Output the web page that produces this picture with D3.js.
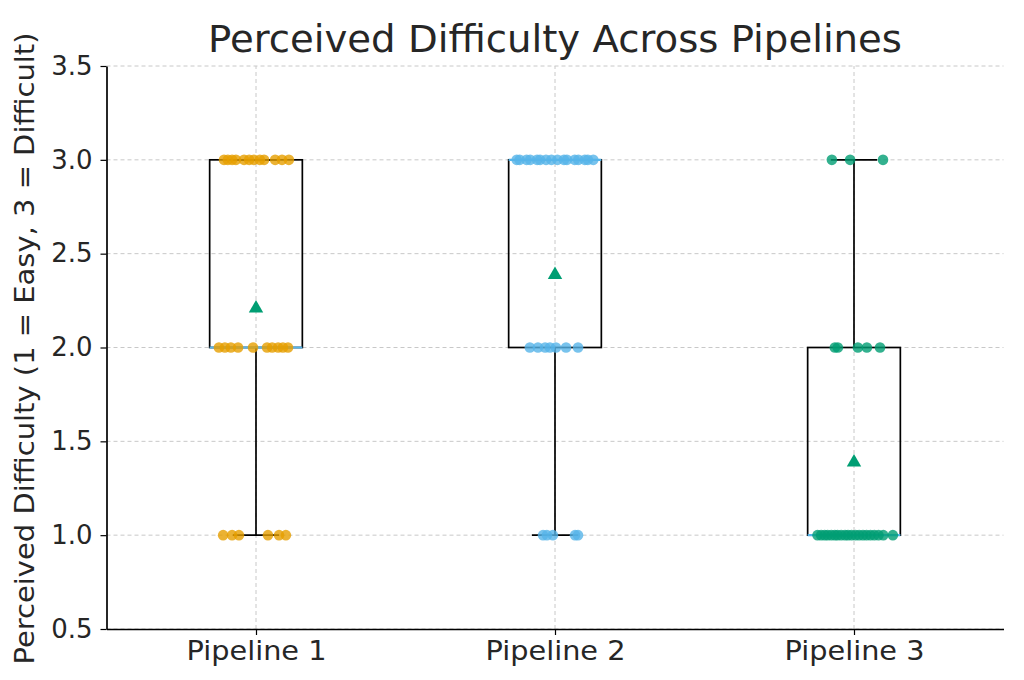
<!DOCTYPE html>
<html>
<head>
<meta charset="utf-8">
<script src="https://cdn.jsdelivr.net/npm/d3@7/dist/d3.min.js"></script>
<style>
  html, body { margin: 0; padding: 0; background: #fff; }
  svg { display: block; font-family: "DejaVu Sans", sans-serif; }
</style>
</head>
<body>
<svg id="chart" width="1024" height="680"></svg>
<script>
// ---------- data ----------
const categories = ["Pipeline 1", "Pipeline 2", "Pipeline 3"];

const pipeline1Ratings = [3,3,3,3,3,3,3,3,3,3,3,3, 2,2,2,2,2,2,2,2,2,2, 1,1,1,1,1,1];
const pipeline1Jitter  = [-0.107,-0.094,-0.080,-0.067,-0.040,-0.023,-0.007,0.013,0.027,0.064,0.087,0.110,
                          -0.124,-0.104,-0.084,-0.060,-0.010,0.037,0.054,0.074,0.090,0.107,
                          -0.110,-0.080,-0.057,0.040,0.077,0.100];

const pipeline2Ratings = [3,3,3,3,3,3,3,3,3,3,3,3,3,3,3,3, 2,2,2,2,2,2,2, 1,1,1,1,1];
const pipeline2Jitter  = [-0.128,-0.118,-0.095,-0.083,-0.060,-0.050,-0.030,-0.012,0.008,0.030,0.040,0.066,0.078,0.100,0.110,0.128,
                          -0.084,-0.057,-0.033,-0.017,0.003,0.037,0.077,
                          -0.040,-0.027,-0.007,0.067,0.077];

const pipeline3Ratings = [3,3,3, 2,2,2,2,2, 1,1,1,1,1,1,1,1,1,1,1,1,1,1,1,1,1,1,1,1];
const pipeline3Jitter  = [-0.074,-0.013,0.097,
                          -0.064,-0.054,0.013,0.043,0.087,
                          -0.122,-0.110,-0.098,-0.088,-0.076,-0.064,-0.055,-0.043,-0.030,-0.020,-0.008,0.005,0.017,0.030,0.042,0.055,0.068,0.082,0.098,0.130];

const seriesRatings = [pipeline1Ratings, pipeline2Ratings, pipeline3Ratings];
const seriesJitter  = [pipeline1Jitter, pipeline2Jitter, pipeline3Jitter];
const seriesColors  = ["#E69F00", "#56B4E9", "#009E73"];
const yTicks = [0.5, 1.0, 1.5, 2.0, 2.5, 3.0, 3.5];

const titleText = "Perceived Difficulty Across Pipelines";
const yLabelText = "Perceived Difficulty (1 = Easy, 3 = Difficult)";

// ---------- layout ----------
const W = 1024, H = 680;
const margin = { left: 106.5, right: 20.5, top: 66, bottom: 51 };
const svg = d3.select("#chart");

const x = d3.scaleLinear().domain([-0.5, categories.length - 0.5]).range([margin.left, W - margin.right]);
const y = d3.scaleLinear().domain([0.5, 3.5]).range([H - margin.bottom, margin.top]);

const textColor = "#262626";

// grid
const grid = svg.append("g");
grid.selectAll("line.hy").data(yTicks).join("line")
  .attr("x1", x.range()[0]).attr("x2", x.range()[1])
  .attr("y1", d => y(d)).attr("y2", d => y(d))
  .attr("stroke", "#c8c8c8").attr("stroke-width", 1).attr("stroke-dasharray", "4,3");
grid.selectAll("line.vx").data(categories.map((c, i) => i)).join("line")
  .attr("x1", d => x(d)).attr("x2", d => x(d))
  .attr("y1", y.range()[0]).attr("y2", y.range()[1])
  .attr("stroke", "#c8c8c8").attr("stroke-width", 1).attr("stroke-dasharray", "4,3");

// box stats
const boxHalf = 0.155;
const stats = seriesRatings.map(vals => {
  const s = vals.slice().sort(d3.ascending);
  const q1 = d3.quantile(s, 0.25), med = d3.quantile(s, 0.5), q3 = d3.quantile(s, 0.75);
  const iqr = q3 - q1;
  const lo = d3.min(s.filter(v => v >= q1 - 1.5 * iqr));
  const hi = d3.max(s.filter(v => v <= q3 + 1.5 * iqr));
  return { q1, med, q3, lo, hi, mean: d3.mean(s) };
});

const boxes = svg.append("g");
stats.forEach((st, i) => {
  const g = boxes.append("g");
  g.append("line").attr("x1", x(i)).attr("x2", x(i)).attr("y1", y(st.q1)).attr("y2", y(st.lo))
    .attr("stroke", "#000").attr("stroke-width", 1.7);
  g.append("line").attr("x1", x(i)).attr("x2", x(i)).attr("y1", y(st.q3)).attr("y2", y(st.hi))
    .attr("stroke", "#000").attr("stroke-width", 1.7);
  [st.lo, st.hi].forEach(v => {
    g.append("line").attr("x1", x(i - boxHalf / 2)).attr("x2", x(i + boxHalf / 2))
      .attr("y1", y(v)).attr("y2", y(v)).attr("stroke", "#000").attr("stroke-width", 1.7);
  });
  g.append("rect").attr("x", x(i - boxHalf)).attr("width", x(i + boxHalf) - x(i - boxHalf))
    .attr("y", y(st.q3)).attr("height", y(st.q1) - y(st.q3))
    .attr("fill", "none").attr("stroke", "#000").attr("stroke-width", 1.7);
  g.append("line").attr("x1", x(i - boxHalf)).attr("x2", x(i + boxHalf))
    .attr("y1", y(st.med)).attr("y2", y(st.med))
    .attr("stroke", "#56B4E9").attr("stroke-width", 2.2);
});

// points
const pts = svg.append("g");
seriesRatings.forEach((vals, i) => {
  pts.selectAll(null).data(vals.map((v, j) => ({ v, j: seriesJitter[i][j] }))).join("circle")
    .attr("cx", d => x(i + d.j)).attr("cy", d => y(d.v)).attr("r", 5.3)
    .attr("fill", seriesColors[i]).attr("fill-opacity", 0.8);
});

// means
svg.append("g").selectAll("path").data(stats).join("path")
  .attr("d", d3.symbol(d3.symbolTriangle, 90))
  .attr("transform", (d, i) => `translate(${x(i)},${y(d.mean) + 1})`)
  .attr("fill", "#009E73");

// axes
const yAxis = d3.axisLeft(y).tickValues(yTicks).tickFormat(d3.format(".1f")).tickSize(6).tickSizeOuter(0).tickPadding(8);
const gy = svg.append("g").attr("transform", `translate(${margin.left},0)`).call(yAxis);
const xAxis = d3.axisBottom(x).tickValues([0, 1, 2]).tickFormat(i => categories[i]).tickSize(6).tickSizeOuter(0).tickPadding(6);
const gx = svg.append("g").attr("transform", `translate(0,${H - margin.bottom})`).call(xAxis);
[gx, gy].forEach(g => {
  g.select(".domain").attr("stroke", "#000").attr("stroke-width", 1.7);
  g.selectAll(".tick line").attr("stroke", "#000").attr("stroke-width", 1.2);
  g.selectAll(".tick text").attr("fill", textColor).style("font-size", "26px").style("font-family", "DejaVu Sans");
});
gx.selectAll(".tick text").style("font-size", "27px").attr("textLength", 140).attr("lengthAdjust", "spacingAndGlyphs");

// title
svg.append("text").attr("x", (x.range()[0] + x.range()[1]) / 2).attr("y", 52)
  .attr("text-anchor", "middle").attr("fill", textColor)
  .attr("textLength", 694).attr("lengthAdjust", "spacingAndGlyphs")
  .style("font-size", "37px").text(titleText);

// y label
svg.append("text")
  .attr("transform", `translate(34,${(y.range()[0] + y.range()[1]) / 2 + 1}) rotate(-90)`)
  .attr("text-anchor", "middle").attr("fill", textColor)
  .attr("textLength", 632).attr("lengthAdjust", "spacingAndGlyphs")
  .style("font-size", "27px").text(yLabelText);
</script>
</body>
</html>
